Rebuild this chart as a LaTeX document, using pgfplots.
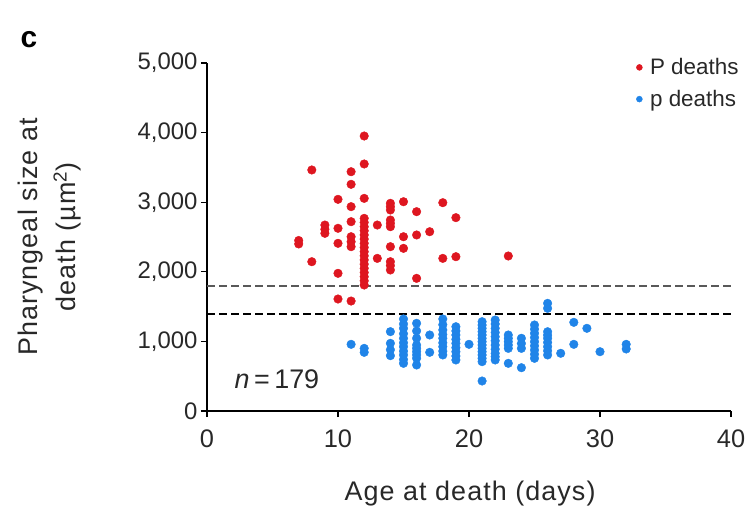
\documentclass[border=0pt]{standalone}
\usepackage{pgfplots}
\pgfplotsset{compat=1.18}
\usepackage{fontspec}
\setmainfont{Liberation Sans}
\definecolor{pred}{RGB}{222,22,32}
\definecolor{pblue}{RGB}{32,132,232}
\definecolor{txt}{RGB}{40,40,40}
\begin{document}
\begin{tikzpicture}
\useasboundingbox (0,0) rectangle (747bp,515bp);
\begin{axis}[
  at={(207bp,104bp)}, anchor=south west,
  scale only axis, width=524bp, height=348bp,
  xmin=0, xmax=40, ymin=0, ymax=5000,
  axis x line*=bottom, axis y line*=left,
  xtick={0,10,20,30,40}, ytick={0,1000,2000,3000,4000,5000},
  tick align=outside, major tick length=6bp,
  tick style={line width=1.3bp, black},
  axis line style={line width=1.4bp, black},
  yticklabel style={font=\fontsize{24}{28}\selectfont, text=txt},
  xticklabel style={font=\fontsize{25.5}{28}\selectfont, text=txt, yshift=-9bp},
  /pgf/number format/assume math mode=true,
  /pgf/number format/1000 sep={,},
  scaled y ticks=false,
  clip=false,
  xlabel={Age at death (days)},
  xlabel style={at={(axis description cs:0.502,-0.237)}, anchor=center, font=\fontsize{27}{30}\selectfont\addfontfeature{LetterSpace=4}, text=txt},
  ylabel={Pharyngeal size at\\death (µm\textsuperscript{2})},
  ylabel style={at={(axis description cs:-0.300,0.5)}, anchor=center, align=center, font=\fontsize{27}{38}\selectfont\addfontfeature{LetterSpace=4}, text=txt},
  legend style={at={(axis description cs:0.816,1.022)}, anchor=north west, draw=none, fill=none,
    font=\fontsize{22.5}{26}\selectfont, text=txt, row sep=10bp, inner sep=1bp},
  legend cell align=left,
  legend image code/.code={\path (0cm,0cm) (0.42cm,0cm); \draw[mark repeat=2,mark phase=2,#1, mark size=3bp] plot coordinates {(0cm,0cm)(0.12cm,0cm)(0.42cm,0cm)};},
]
\addplot[only marks, mark=*, mark size=4.3bp, color=pred, mark options={draw=none, fill=pred}] coordinates {
(7,2450)(7,2400)
(8,3463)(8,2145)
(9,2672)(9,2553)(9,2610)
(10,3041)(10,2625)(10,2409)(10,1978)(10,1609)
(11,3438)(11,3257)(11,2936)(11,2720)(11,2504)(11,2432)(11,2361)(11,1580)
(12,3951)(12,3549)(12,3055)(12,2768)(12,2648)(12,2529)(12,2409)(12,2289)(12,2170)(12,2050)(12,1930)(12,1810)(12,2710)(12,2590)(12,2470)(12,2350)(12,2230)(12,2110)(12,1990)(12,1870)
(13,2672)(13,2193)
(14,2984)(14,2888)(14,2744)(14,2648)(14,2361)(14,2145)(14,2026)(14,2936)(14,2696)(14,2090)
(15,3007)(15,2504)(15,2337)
(16,2864)(16,2529)(16,1906)
(17,2576)
(18,2993)(18,2193)
(19,2778)(19,2217)
(23,2227)
};
\addlegendentry{P deaths}
\addplot[only marks, mark=*, mark size=4.3bp, color=pblue, mark options={draw=none, fill=pblue}] coordinates {
(11,958)
(12,900)(12,843)
(14,1140)(14,972)(14,880)(14,795)
(15,1322)(15,1250)(15,1188)(15,1110)(15,1045)(15,980)(15,924)(15,860)(15,805)(15,740)(15,685)
(16,1260)(16,1150)(16,1045)(16,948)(16,900)(16,852)(16,805)(16,757)(16,661)
(17,1092)(17,843)
(18,1322)(18,1240)(18,1164)(18,1100)(18,1045)(18,980)(18,924)(18,860)(18,805)
(19,1211)(19,1150)(19,1092)(19,1030)(19,972)(19,910)(19,852)(19,790)(19,733)
(20,958)
(21,1283)(21,1235)(21,1188)(21,1140)(21,1092)(21,1044)(21,996)(21,948)(21,900)(21,852)(21,805)(21,757)(21,709)(21,431)
(22,1307)(22,1250)(22,1188)(22,1128)(22,1068)(22,1008)(22,948)(22,888)(22,829)(22,780)(22,733)
(23,1092)(23,1044)(23,996)(23,948)(23,900)(23,685)
(24,1045)(24,970)(24,900)(24,622)
(25,1236)(25,1176)(25,1116)(25,1056)(25,996)(25,936)(25,876)(25,816)(25,757)
(26,1547)(26,1475)(26,1139)(26,1090)(26,1045)(26,985)(26,924)(26,865)(26,805)
(27,829)
(28,1274)(28,958)
(29,1188)
(30,852)
(32,958)(32,891)
};
\addlegendentry{p deaths}
\addplot[color=black!65, line width=2bp, dash pattern=on 8bp off 4bp, forget plot] coordinates {(0,1800)(40,1800)};
\addplot[color=black, line width=2bp, dash pattern=on 8bp off 4bp, forget plot] coordinates {(0,1400)(40,1400)};
\node[anchor=base west, font=\fontsize{27}{30}\selectfont, text=txt, inner sep=0pt] at (axis cs:2.1,330) {\textit{n}\,=\,179};
\end{axis}
\node[font=\bfseries\fontsize{30}{30}\selectfont, text=black] at (29bp,475bp) {c};
\end{tikzpicture}
\end{document}
